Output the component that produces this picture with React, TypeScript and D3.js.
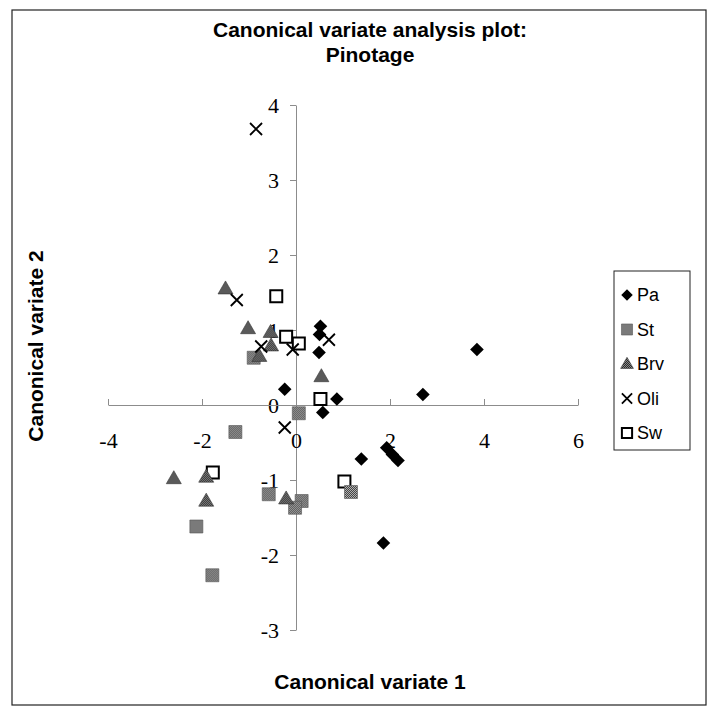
import { useRef, useEffect } from 'react'
import { select, scaleLinear, axisLeft, axisBottom } from 'd3'

// series values, [cv1, cv2]
const pa = [[0.52, 1.05], [0.5, 0.94], [0.49, 0.7], [-0.24, 0.21], [0.87, 0.08], [0.57, -0.1], [1.39, -0.72], [1.93, -0.57], [2.05, -0.66], [2.17, -0.74], [1.86, -1.84], [2.7, 0.14], [3.85, 0.74]]
const st = [[-0.9, 0.63], [0.06, -0.11], [-1.29, -0.36], [-2.12, -1.62], [-1.78, -2.27], [-0.58, -1.19], [0.12, -1.28], [-0.02, -1.37], [1.17, -1.16]]
const brv = [[-1.5, 1.55], [-1.02, 1.02], [-0.54, 0.97], [-0.53, 0.79], [-0.78, 0.65], [0.54, 0.38], [-1.91, -0.96], [-2.6, -0.98], [-1.91, -1.28], [-0.21, -1.25]]
const oli = [[-0.85, 3.68], [-1.26, 1.4], [-0.74, 0.78], [-0.07, 0.74], [0.7, 0.87], [-0.24, -0.3]]
const sw = [[-0.42, 1.45], [-0.21, 0.91], [0.06, 0.82], [0.52, 0.08], [1.03, -1.02], [-1.77, -0.9]]

const seriesNames = ['Pa', 'St', 'Brv', 'Oli', 'Sw']
const xTicks = [-4, -2, 0, 2, 4, 6]
const yTicks = [-3, -2, -1, 0, 1, 2, 3, 4]

const W = 713
const H = 709

// marker path around (0,0), s = scale factor
const markerPath = (name, s = 1) => {
  if (name === 'Pa') { const r = 6.8 * s; return `M0,${-r}L${r},0L0,${r}L${-r},0Z` }
  if (name === 'St') { const r = 6.5 * s; return `M${-r},${-r}H${r}V${r}H${-r}Z` }
  if (name === 'Brv') { const w = 7.5 * s, h = 13 * s; return `M0,${-h * 0.6}L${w},${h * 0.4}L${-w},${h * 0.4}Z` }
  if (name === 'Oli') { const r = 6 * s; return `M${-r},${-r}L${r},${r}M${r},${-r}L${-r},${r}` }
  const r = 6 * s; return `M${-r},${-r}H${r}V${r}H${-r}Z`
}

const styleFor = name => {
  if (name === 'Pa') return { fill: '#000', stroke: 'none', sw: 0 }
  if (name === 'St') return { fill: 'url(#stPat)', stroke: '#555', sw: 0.6 }
  if (name === 'Brv') return { fill: 'url(#brvPat)', stroke: '#333', sw: 0.6 }
  if (name === 'Oli') return { fill: 'none', stroke: '#000', sw: 1.8 }
  return { fill: '#fff', stroke: '#000', sw: 2 }
}

const App = () => {
  const svgRef = useRef(null)

  useEffect(() => {
    const svg = select(svgRef.current)
    svg.selectAll('*').remove()

    const defs = svg.append('defs')
    const pat = (id, dark, light) => {
      const p = defs.append('pattern').attr('id', id).attr('width', 2).attr('height', 2).attr('patternUnits', 'userSpaceOnUse')
      p.append('rect').attr('width', 2).attr('height', 2).attr('fill', light)
      p.append('rect').attr('width', 1).attr('height', 1).attr('fill', dark)
      p.append('rect').attr('x', 1).attr('y', 1).attr('width', 1).attr('height', 1).attr('fill', dark)
    }
    pat('stPat', '#444', '#b0b0b0')
    pat('brvPat', '#2a2a2a', '#8a8a8a')

    svg.append('rect').attr('width', W).attr('height', H).attr('fill', '#fff')
    svg.append('rect')
      .attr('x', 12).attr('y', 10).attr('width', 694).attr('height', 695)
      .attr('fill', 'none').attr('stroke', '#222').attr('stroke-width', 1.2)

    const x = scaleLinear().domain([-4, 6]).range([108, 578])
    const y = scaleLinear().domain([-3, 4]).range([630, 105])

    // y axis through x = 0
    const yAxis = svg.append('g')
      .attr('transform', `translate(${x(0)},0)`)
      .call(axisLeft(y).tickValues(yTicks).tickFormat(d => String(d)).tickSizeInner(6).tickSizeOuter(0).tickPadding(11))
    // x axis through y = 0, ticks pointing up, labels below
    const xAxis = svg.append('g')
      .attr('transform', `translate(0,${y(0)})`)
      .call(axisBottom(x).tickValues(xTicks).tickFormat(d => String(d)).tickSizeInner(-6).tickSizeOuter(0).tickPadding(27))

    ;[xAxis, yAxis].forEach(g => {
      g.select('.domain').attr('stroke', '#8c8c8c')
      g.selectAll('.tick line').attr('stroke', '#8c8c8c')
      g.selectAll('.tick text')
        .attr('fill', '#000')
        .style('font-family', '"Liberation Serif", "Times New Roman", serif')
        .style('font-size', '22px')
    })

    const all = { Pa: pa, St: st, Brv: brv, Oli: oli, Sw: sw }
    const drawOrder = ['Sw', 'Pa', 'St', 'Brv', 'Oli']
    drawOrder.forEach(name => {
      const s = styleFor(name)
      svg.append('g').selectAll('path')
        .data(all[name])
        .join('path')
        .attr('transform', d => `translate(${x(d[0])},${y(d[1])})`)
        .attr('d', markerPath(name))
        .attr('fill', s.fill)
        .attr('stroke', s.stroke)
        .attr('stroke-width', s.sw)
    })

    // legend
    const lg = svg.append('g')
    lg.append('rect')
      .attr('x', 614).attr('y', 271).attr('width', 76).attr('height', 179)
      .attr('fill', '#fff').attr('stroke', '#222').attr('stroke-width', 1)
    seriesNames.forEach((name, i) => {
      const cy = 295 + i * 34.5
      const s = styleFor(name)
      lg.append('path')
        .attr('transform', `translate(627,${cy})`)
        .attr('d', markerPath(name, 0.85))
        .attr('fill', s.fill)
        .attr('stroke', s.stroke)
        .attr('stroke-width', s.sw)
      lg.append('text')
        .attr('x', 637).attr('y', cy).attr('dy', '0.36em')
        .style('font-family', '"Liberation Sans", Arial, sans-serif')
        .style('font-size', '18px')
        .text(name)
    })

    const bold = sel => sel
      .style('font-family', '"Liberation Sans", Arial, sans-serif')
      .style('font-weight', 'bold')
      .style('font-size', '21px')
      .attr('text-anchor', 'middle')

    svg.append('text').attr('x', 370).attr('y', 37).call(bold).text('Canonical variate analysis plot:')
    svg.append('text').attr('x', 370).attr('y', 62).call(bold).text('Pinotage')
    svg.append('text').attr('x', 370).attr('y', 689).call(bold).text('Canonical variate 1')
    svg.append('text').attr('transform', 'translate(43,346) rotate(-90)').call(bold).text('Canonical variate 2')
  }, [])

  return (
    <svg ref={svgRef} width={W} height={H} style={{ position: 'absolute', left: 0, top: 0 }} />
  )
}

export default App
